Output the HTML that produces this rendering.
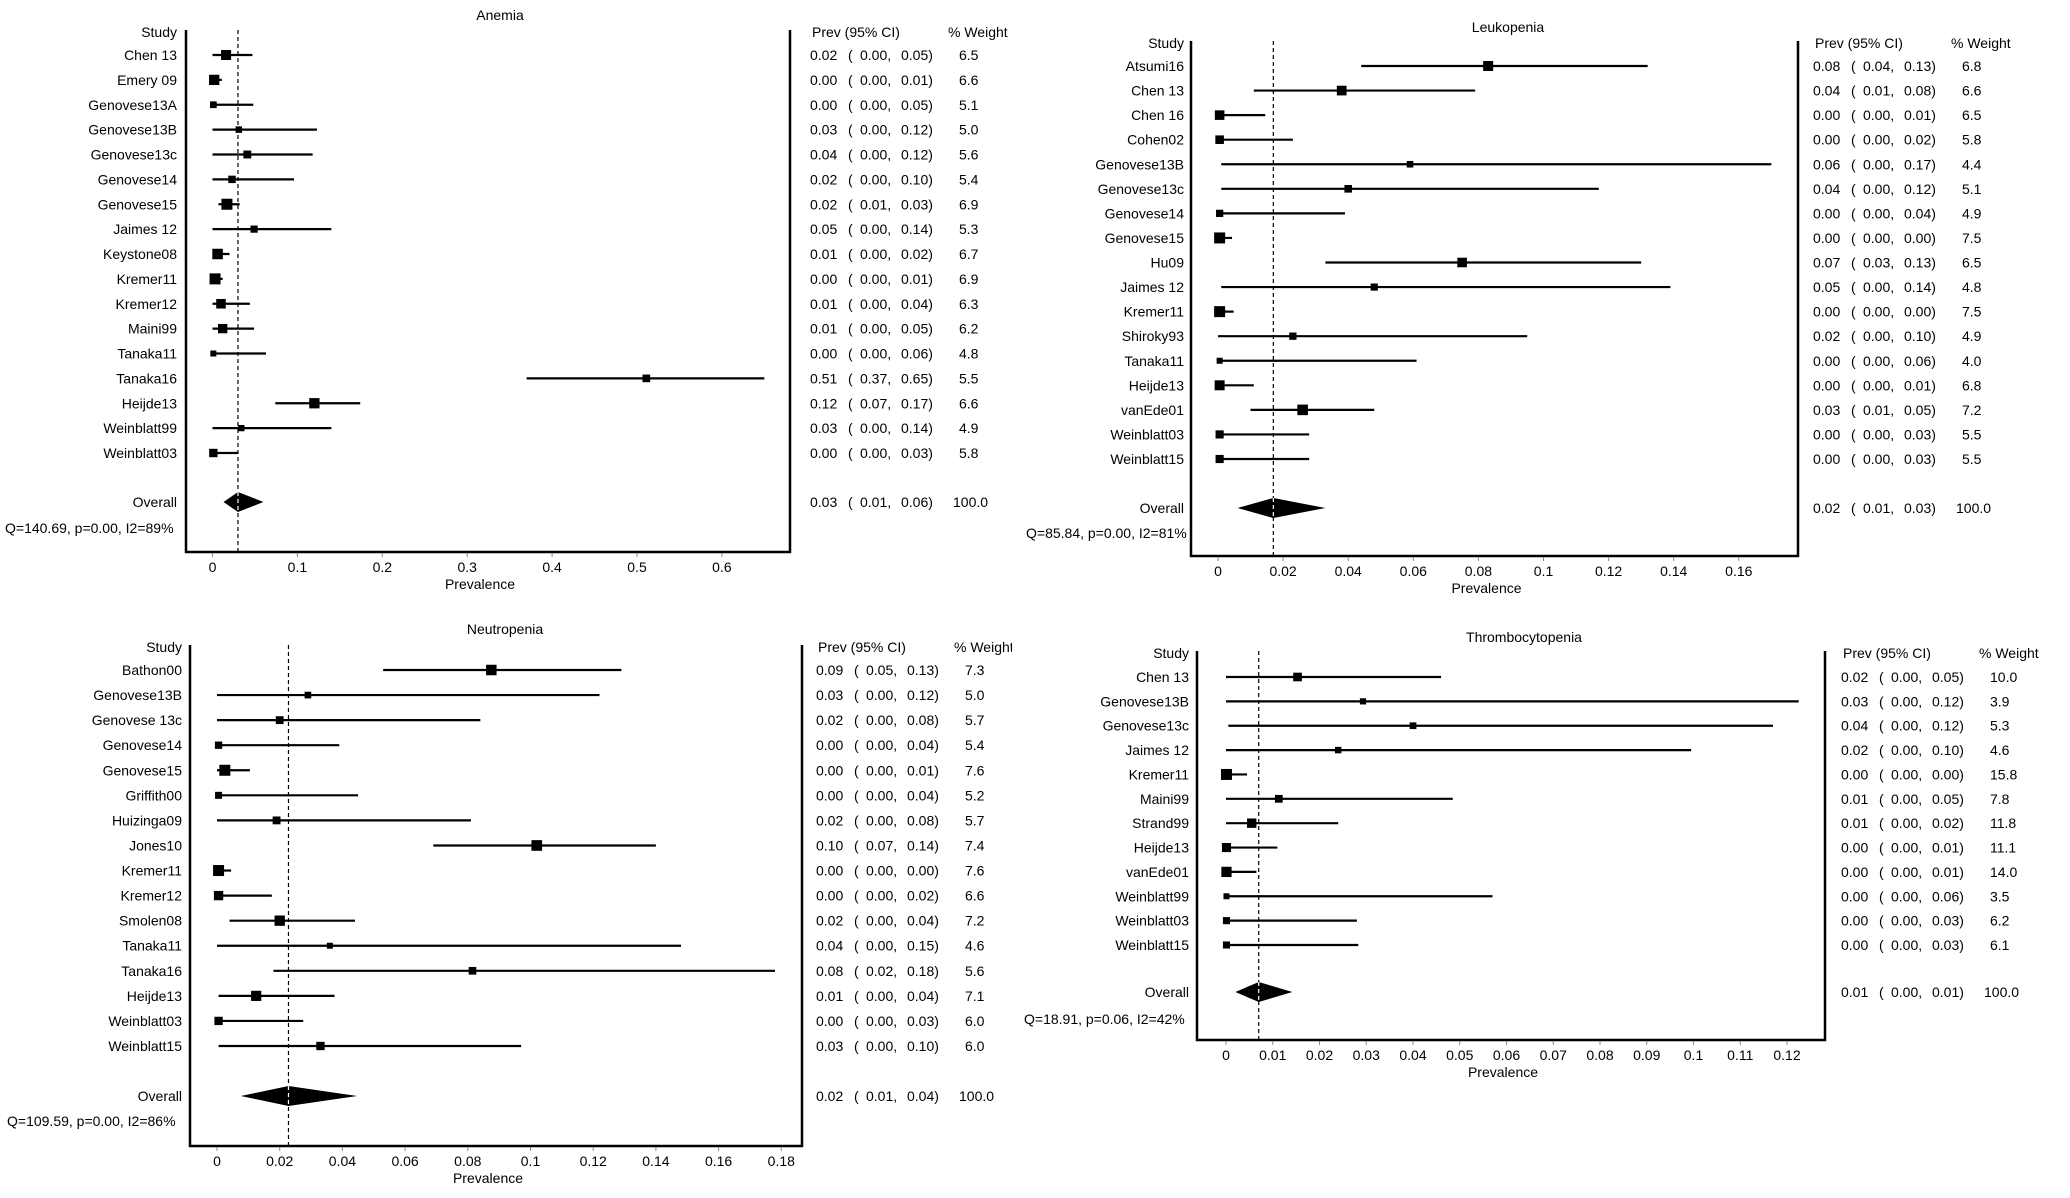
<!DOCTYPE html>
<html><head><meta charset="utf-8">
<style>
html,body{margin:0;padding:0;background:#fff;}
svg{display:block;}
text{font-family:"Liberation Sans",Arial,sans-serif;font-size:14px;fill:#000;}
</style></head>
<body>
<svg id="chart" width="2070" height="1198" viewBox="0 0 2070 1198" xmlns="http://www.w3.org/2000/svg">
<defs><clipPath id="clipN"><rect x="0" y="600" width="1012" height="600"/></clipPath></defs>
</svg>
<script>
// ---- Anemia ----
const anemiaStudies=["Chen 13","Emery 09","Genovese13A","Genovese13B","Genovese13c","Genovese14","Genovese15","Jaimes 12","Keystone08","Kremer11","Kremer12","Maini99","Tanaka11","Tanaka16","Heijde13","Weinblatt99","Weinblatt03"];
const anemiaEst=[0.016,0.002,0.001,0.031,0.041,0.023,0.017,0.049,0.006,0.003,0.01,0.012,0.001,0.511,0.12,0.034,0.001];
const anemiaLo=[0,0,0,0,0,0,0.007,0,0,0,0,0,0,0.37,0.074,0,0];
const anemiaHi=[0.047,0.011,0.048,0.123,0.118,0.096,0.032,0.14,0.02,0.012,0.044,0.049,0.063,0.65,0.174,0.14,0.03];
const anemiaWeight=[6.5,6.6,5.1,5.0,5.6,5.4,6.9,5.3,6.7,6.9,6.3,6.2,4.8,5.5,6.6,4.9,5.8];
const anemiaOverall=[0.03,0.013,0.06];
const anemiaTicks=[0,0.1,0.2,0.3,0.4,0.5,0.6];
const anemiaTickLabels=["0","0.1","0.2","0.3","0.4","0.5","0.6"];
// ---- Leukopenia ----
const leukStudies=["Atsumi16","Chen 13","Chen 16","Cohen02","Genovese13B","Genovese13c","Genovese14","Genovese15","Hu09","Jaimes 12","Kremer11","Shiroky93","Tanaka11","Heijde13","vanEde01","Weinblatt03","Weinblatt15"];
const leukEst=[0.083,0.038,0.0005,0.0005,0.059,0.04,0.0005,0.0005,0.075,0.048,0.0005,0.023,0.0005,0.0005,0.026,0.0005,0.0005];
const leukLo=[0.044,0.011,0,0,0.001,0.001,0,0,0.033,0.001,0,0,0,0,0.01,0,0];
const leukHi=[0.132,0.079,0.0145,0.023,0.17,0.117,0.039,0.0043,0.13,0.139,0.0048,0.095,0.061,0.011,0.048,0.028,0.028];
const leukWeight=[6.8,6.6,6.5,5.8,4.4,5.1,4.9,7.5,6.5,4.8,7.5,4.9,4.0,6.8,7.2,5.5,5.5];
const leukOverall=[0.017,0.006,0.033];
const leukTicks=[0,0.02,0.04,0.06,0.08,0.1,0.12,0.14,0.16];
const leukTickLabels=["0","0.02","0.04","0.06","0.08","0.1","0.12","0.14","0.16"];
// ---- Neutropenia ----
const neutStudies=["Bathon00","Genovese13B","Genovese 13c","Genovese14","Genovese15","Griffith00","Huizinga09","Jones10","Kremer11","Kremer12","Smolen08","Tanaka11","Tanaka16","Heijde13","Weinblatt03","Weinblatt15"];
const neutEst=[0.0875,0.029,0.02,0.0005,0.0025,0.0005,0.019,0.102,0.0005,0.0005,0.02,0.036,0.0815,0.0125,0.0005,0.033];
const neutLo=[0.053,0,0,0,0,0,0,0.069,0,0,0.004,0,0.018,0.0005,0,0.0005];
const neutHi=[0.129,0.122,0.084,0.039,0.0105,0.045,0.081,0.14,0.0045,0.0175,0.044,0.148,0.178,0.0375,0.0275,0.097];
const neutWeight=[7.3,5.0,5.7,5.4,7.6,5.2,5.7,7.4,7.6,6.6,7.2,4.6,5.6,7.1,6.0,6.0];
const neutOverall=[0.0228,0.0076,0.0447];
const neutTicks=[0,0.02,0.04,0.06,0.08,0.1,0.12,0.14,0.16,0.18];
const neutTickLabels=["0","0.02","0.04","0.06","0.08","0.1","0.12","0.14","0.16","0.18"];
// ---- Thrombocytopenia ----
const thrStudies=["Chen 13","Genovese13B","Genovese13c","Jaimes 12","Kremer11","Maini99","Strand99","Heijde13","vanEde01","Weinblatt99","Weinblatt03","Weinblatt15"];
const thrEst=[0.0153,0.0293,0.04,0.024,0.0001,0.0113,0.0055,0.0001,0.0001,0.0001,0.0001,0.0001];
const thrLo=[0,0,0.0005,0,0,0,0,0,0,0,0,0];
const thrHi=[0.046,0.1225,0.117,0.0995,0.0045,0.0485,0.024,0.011,0.0065,0.057,0.028,0.0283];
const thrWeight=[10.0,3.9,5.3,4.6,15.8,7.8,11.8,11.1,14.0,3.5,6.2,6.1];
const thrOverall=[0.007,0.002,0.0142];
const thrTicks=[0,0.01,0.02,0.03,0.04,0.05,0.06,0.07,0.08,0.09,0.1,0.11,0.12];
const thrTickLabels=["0","0.01","0.02","0.03","0.04","0.05","0.06","0.07","0.08","0.09","0.1","0.11","0.12"];

const NS="http://www.w3.org/2000/svg";
const svg=document.getElementById('chart');
function mk(tag,attrs,parent){const e=document.createElementNS(NS,tag);for(const k in attrs)e.setAttribute(k,attrs[k]);(parent||svg).appendChild(e);return e;}
function txt(x,y,s,anchor,parent){const t=mk('text',{x:x,y:y,'text-anchor':anchor||'start','dominant-baseline':'central'},parent);t.textContent=s;return t;}

function panel(p){
  const g=mk('g',p.clip?{'clip-path':'url(#'+p.clip+')'}:{});
  
  
  const sx=v=>p.x0+v*p.ppu;
  const n=p.studies.length;
  const sy=i=>p.row0+i*(p.rowN-p.row0)/(n-1);
  const wmin=Math.min(...p.weight), wmax=Math.max(...p.weight);
  const t=txt(p.titleX,p.titleY,p.title,'middle',g);
  
  
  const fr=mk('path',{d:`M${p.left},${p.top}V${p.bottom}H${p.right}V${p.top}`,fill:'none',stroke:'#000','stroke-width':2.5},g);
  
  
  p.ticks.forEach((v,i)=>{
    mk('line',{x1:sx(v),x2:sx(v),y1:p.bottom+1,y2:p.bottom+5,stroke:'#888','stroke-width':1},g);
    const tl=txt(sx(v),p.bottom+15,p.tickLabels[i],'middle',g);
    
    
  });
  const xt=txt((p.left+p.right)/2-8,p.bottom+32,'Prevalence','middle',g);
  
  
  txt(p.labelX,p.top+2,'Study','end',g);
  txt(p.prevX+2,p.top+2,'Prev (95% CI)','start',g);
  txt(p.prevX+138,p.top+2,'% Weight','start',g);
  const dl=mk('line',{x1:sx(p.overall[0]),x2:sx(p.overall[0]),y1:p.top,y2:p.bottom,stroke:'#000','stroke-width':1.2,'stroke-dasharray':'4,3'},g);
  
  
  for(let i=0;i<n;i++){
    const y=sy(i);
    const lb=txt(p.labelX,y,p.studies[i],'end',g);
    
    
    const ci=mk('line',{x1:sx(p.lo[i]),x2:sx(p.hi[i]),y1:y,y2:y,stroke:'#000','stroke-width':2.2},g);
    
    
    const s=6+5*(p.weight[i]-wmin)/(wmax-wmin);
    const sq=mk('rect',{x:sx(p.est[i])-s/2,y:y-s/2,width:s,height:s,fill:'#000'},g);
    
    
    txt(p.prevX,y,p.est[i].toFixed(2),'start',g);
    txt(p.prevX+38,y,'(','start',g);
    txt(p.prevX+50,y,p.lo[i].toFixed(2)+',','start',g);
    txt(p.prevX+91,y,p.hi[i].toFixed(2)+')','start',g);
    txt(p.prevX+149,y,p.weight[i].toFixed(1),'start',g);
  }
  const oy=p.overallY;
  txt(p.labelX,oy,'Overall','end',g);
  const [e,l,h]=p.overall;
  const dm=mk('polygon',{points:`${sx(l)},${oy} ${sx(e)},${oy-10} ${sx(h)},${oy} ${sx(e)},${oy+10}`,fill:'#000'},g);
  
  
  mk('line',{x1:sx(e),x2:sx(e),y1:oy-10,y2:oy+10,stroke:'#fff','stroke-width':1.2,'stroke-dasharray':'4,3'},g);
  txt(p.prevX,oy,e.toFixed(2),'start',g);
  txt(p.prevX+38,oy,'(','start',g);
  txt(p.prevX+50,oy,l.toFixed(2)+',','start',g);
  txt(p.prevX+91,oy,h.toFixed(2)+')','start',g);
  txt(p.prevX+143,oy,'100.0','start',g);
  const q=txt(p.qX,p.qY,p.qText,'start',g);
  
  
}

panel({name:'anemia',title:'Anemia',titleX:500,titleY:15,left:186,right:790,top:30,bottom:552,
  x0:212.5,ppu:849,labelX:177,prevX:810,row0:55,rowN:453,overallY:502,qX:5,qY:528,
  qText:'Q=140.69, p=0.00, I2=89%',studies:anemiaStudies,est:anemiaEst,lo:anemiaLo,hi:anemiaHi,
  weight:anemiaWeight,overall:anemiaOverall,ticks:anemiaTicks,tickLabels:anemiaTickLabels});
panel({name:'leukopenia',title:'Leukopenia',titleX:1508,titleY:27,left:1191,right:1798,top:41,bottom:556,
  x0:1218,ppu:3255,labelX:1184,prevX:1813,row0:66,rowN:459,overallY:508,qX:1026,qY:533,
  qText:'Q=85.84, p=0.00, I2=81%',studies:leukStudies,est:leukEst,lo:leukLo,hi:leukHi,
  weight:leukWeight,overall:leukOverall,ticks:leukTicks,tickLabels:leukTickLabels});
panel({name:'neutropenia',title:'Neutropenia',titleX:505,titleY:629,left:190,right:802,top:645,bottom:1146,clip:'clipN',
  x0:217,ppu:3135,labelX:182,prevX:816,row0:670,rowN:1046,overallY:1096,qX:7,qY:1121,
  qText:'Q=109.59, p=0.00, I2=86%',studies:neutStudies,est:neutEst,lo:neutLo,hi:neutHi,
  weight:neutWeight,overall:neutOverall,ticks:neutTicks,tickLabels:neutTickLabels});
panel({name:'thrombocytopenia',title:'Thrombocytopenia',titleX:1524,titleY:637,left:1197,right:1825,top:651,bottom:1040,
  x0:1226,ppu:4675,labelX:1189,prevX:1841,row0:677,rowN:945,overallY:992,qX:1024,qY:1019,
  qText:'Q=18.91, p=0.06, I2=42%',studies:thrStudies,est:thrEst,lo:thrLo,hi:thrHi,
  weight:thrWeight,overall:thrOverall,ticks:thrTicks,tickLabels:thrTickLabels});
</script>
</body></html>
